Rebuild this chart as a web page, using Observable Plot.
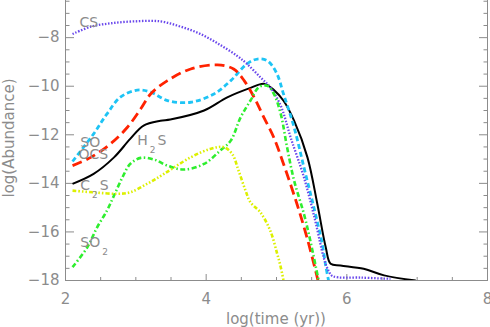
<!DOCTYPE html>
<html>
<head>
<meta charset="utf-8">
<script src="https://cdn.jsdelivr.net/npm/d3@7"></script>
<script src="https://cdn.jsdelivr.net/npm/@observablehq/plot@0.6"></script>
<style>
  html, body { margin: 0; padding: 0; background: #fff; }
</style>
</head>
<body>
<div id="chart"></div>
<script>
// ---- data ----
const csT  = [2.1, 2.36, 2.64, 2.97, 3.35, 3.64, 3.92, 4.2, 4.44, 4.58, 4.77, 4.91, 5.06, 5.2, 5.39, 5.55, 5.67, 5.74, 5.8, 6.2, 6.62];
const csV  = [-7.85, -7.55, -7.41, -7.33, -7.33, -7.55, -7.85, -8.3, -8.75, -9.08, -9.63, -10.04, -10.8, -12.1, -13.75, -15.53, -17.04, -17.6, -17.82, -17.88, -17.93];

const soT  = [2.1, 2.4, 2.59, 2.78, 3.02, 3.21, 3.45, 3.78, 4.11, 4.35, 4.58, 4.73, 4.87, 5.0, 5.1, 5.25, 5.39, 5.53, 5.65, 5.7, 5.74];
const soV  = [-13.1, -11.96, -11.14, -10.45, -10.16, -10.24, -10.59, -10.66, -10.32, -9.77, -9.08, -8.88, -8.95, -9.45, -10.32, -11.69, -13.34, -14.98, -16.49, -17.4, -18];

const ocsT = [2.1, 2.36, 2.64, 2.88, 3.07, 3.21, 3.45, 3.78, 4.16, 4.39, 4.54, 4.68, 4.82, 4.96, 5.1, 5.29, 5.44, 5.59];
const ocsV = [-13.27, -12.93, -12.37, -11.69, -10.93, -10.32, -9.77, -9.29, -9.12, -9.29, -9.77, -10.45, -11.28, -12.1, -13.2, -14.84, -16.3, -18];

const h2sT = [2.1, 2.4, 2.69, 2.92, 3.11, 3.35, 3.49, 3.97, 4.3, 4.63, 4.82, 4.96, 5.1, 5.25, 5.44, 5.58, 5.7, 5.77, 5.91, 6.24, 6.53, 6.98];
const h2sV = [-14.02, -13.61, -12.93, -12.17, -11.62, -11.42, -11.37, -11.0, -10.46, -10.07, -9.9, -10.15, -10.6, -11.42, -12.93, -14.84, -16.63, -17.31, -17.38, -17.52, -17.79, -18.0];

const so2T = [2.1, 2.31, 2.45, 2.59, 2.69, 2.81, 2.92, 3.07, 3.26, 3.45, 3.68, 3.97, 4.2, 4.35, 4.49, 4.63, 4.75, 4.87, 4.96, 5.06, 5.15, 5.25, 5.39, 5.48, 5.58, 5.6];
const so2V = [-17.45, -16.63, -15.81, -15.12, -14.5, -13.75, -13.2, -12.95, -13.02, -13.27, -13.43, -13.2, -12.65, -12.24, -11.28, -10.59, -10.04, -9.98, -10.3, -11.14, -12.51, -13.88, -15.26, -16.35, -17.73, -18];

const c2sT = [2.1, 2.4, 2.73, 2.92, 3.16, 3.4, 3.78, 4.06, 4.25, 4.37, 4.46, 4.56, 4.63, 4.77, 4.91, 5.01, 5.06, 5.1];
const c2sV = [-14.3, -14.37, -14.43, -14.37, -14.02, -13.61, -12.93, -12.58, -12.51, -12.79, -13.47, -14.3, -14.78, -15.19, -15.94, -16.9, -17.45, -18];

// species labels (text + anchor in data units)
const labelText = ["CS", "SO", "OCS", "H2S", "C2S", "SO2"];
const labelT    = [2.2, 2.21, 2.185, 3.02, 2.21, 2.21];
const labelV    = [-7.58, -12.52, -12.98, -12.44, -14.29, -16.64];

// ticks
const xMajor = [2, 4, 6, 8];
const xMinor = [2.5, 3, 3.5, 4.5, 5, 5.5, 6.5, 7, 7.5];
const yMajor = [-18, -16, -14, -12, -10, -8];
const yMinor = [-17.5, -17, -16.5, -15.5, -15, -14.5, -13.5, -13, -12.5, -11.5, -11, -10.5, -9.5, -9, -8.5, -7.5, -7, -6.5];

// ---- styles ----
const series = [
  {t: h2sT, v: h2sV, stroke: "#000000", width: 2,   dash: null},
  {t: soT,  v: soV,  stroke: "#1ec4f5", width: 2.8, dash: "5 3"},
  {t: csT,  v: csV,  stroke: "#6a48ec", width: 2.3, dash: "1.5 1.6"},
  {t: ocsT, v: ocsV, stroke: "#ff2200", width: 2.8, dash: "10 5"},
  {t: so2T, v: so2V, stroke: "#2eee2e", width: 2.6, dash: "5 2.5 1.5 2.5"},
  {t: c2sT, v: c2sV, stroke: "#dcf000", width: 2.6, dash: "4 2 1.5 2 1.5 2 1.5 2"}
];

const grey = "#8c8c8c";
const blank = () => "";

const chart = Plot.plot({
  width: 490,
  height: 327,
  marginLeft: 65,
  marginRight: 3,
  marginTop: 0,
  marginBottom: 47,
  x: {domain: [2, 8]},
  y: {domain: [-18, -6.47]},
  style: {color: grey, fontFamily: "'DejaVu Sans', sans-serif", fontSize: "15px", background: "white"},
  marks: [
    // axis lines
    Plot.ruleX([2, 8], {stroke: grey}),
    Plot.ruleY([-18], {stroke: grey}),
    // inward ticks
    Plot.axisY(yMajor, {anchor: "left", tickSize: 9, dx: 9, tickFormat: blank, label: null}),
    Plot.axisY(yMinor, {anchor: "left", tickSize: 4.5, dx: 4.5, tickFormat: blank, label: null}),
    Plot.axisY(yMajor, {anchor: "right", tickSize: 9, dx: -9, tickFormat: blank, label: null}),
    Plot.axisY(yMinor, {anchor: "right", tickSize: 4.5, dx: -4.5, tickFormat: blank, label: null}),
    Plot.axisX(xMajor, {anchor: "bottom", tickSize: 6, dy: -6, tickFormat: blank, label: null}),
    Plot.axisX(xMinor, {anchor: "bottom", tickSize: 3, dy: -3, tickFormat: blank, label: null}),
    // tick labels
    Plot.axisY(yMajor, {anchor: "left", tickSize: 0, tickPadding: 6, tickFormat: d3.format("d"), label: null, fontSize: 15}),
    Plot.axisX(xMajor, {anchor: "bottom", tickSize: 0, tickPadding: 13, tickFormat: d3.format("d"), label: null, fontSize: 15}),
    // curves
    ...series.map(s => Plot.line(s.v, {
      x: s.t, y: s.v, stroke: s.stroke, strokeWidth: s.width,
      strokeDasharray: s.dash, strokeLinecap: "butt", strokeLinejoin: "round",
      curve: "catmull-rom", clip: true
    })),
    // labels
    Plot.text(labelText, {
      x: labelT, y: labelV, text: d => d, textAnchor: "start", lineAnchor: "bottom",
      fill: grey, fontSize: 14
    })
  ]
});

// subscripts for the species labels
d3.select(chart).selectAll('g[aria-label="text"] text').each(function () {
  const s = this.textContent;
  const el = d3.select(this);
  el.text(null);
  const parts = s.match(/[A-Za-z]+|\d+/g) || [];
  let prevSub = false;
  parts.forEach(p => {
    if (/^\d+$/.test(p)) {
      el.append("tspan").attr("font-size", 9).attr("dx", 2).attr("dy", 8).text(p);
      prevSub = true;
    } else {
      const t = el.append("tspan").text(p);
      if (prevSub) t.attr("dx", 2).attr("dy", -8);
      prevSub = false;
    }
  });
});

// axis titles
const svg = d3.select(chart);
svg.append("text")
  .attr("x", 276).attr("y", 324)
  .attr("text-anchor", "middle")
  .attr("fill", grey).attr("font-size", 15)
  .text("log(time (yr))");
svg.append("text")
  .attr("transform", "translate(14,138) rotate(-90)")
  .attr("text-anchor", "middle")
  .attr("fill", grey).attr("font-size", 15)
  .text("log(Abundance)");

document.getElementById("chart").appendChild(chart);
</script>
</body>
</html>
